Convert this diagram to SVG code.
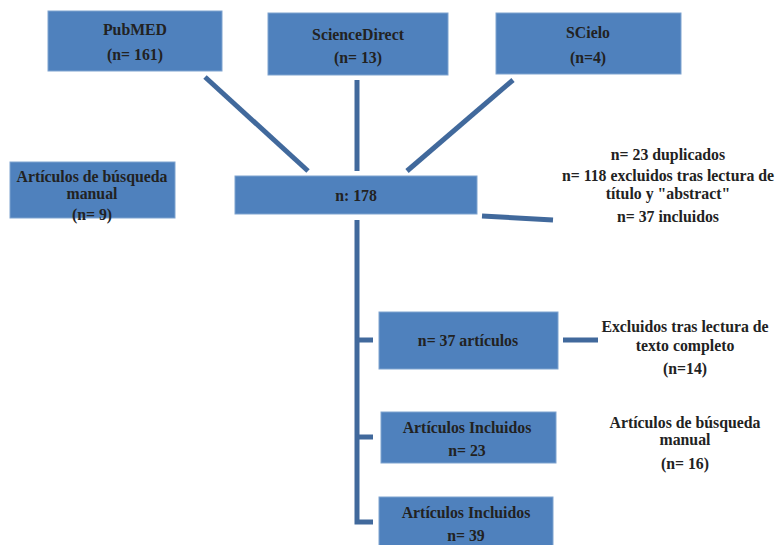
<svg xmlns="http://www.w3.org/2000/svg" width="782" height="545" viewBox="0 0 782 545">
<style>
.box{fill:#4F81BD;stroke:#7FA3CF;stroke-width:1}
.t{font-family:"Liberation Serif","DejaVu Serif",serif;font-size:15.8px;fill:#222;text-anchor:middle;font-weight:bold}
.c{stroke:#41699C;stroke-width:5;fill:none}
</style>
<rect width="782" height="545" fill="#fff"/>
<g id="connectors">
<line class="c" x1="205" y1="77" x2="308" y2="171"/>
<line class="c" x1="357" y1="80" x2="357" y2="171"/>
<line class="c" x1="513" y1="80" x2="407" y2="171"/>
<line class="c" x1="482" y1="216" x2="553" y2="220"/>
<polyline class="c" points="357,220 357,522 373,522"/>
<line class="c" x1="355" y1="340" x2="373" y2="340"/>
<line class="c" x1="355" y1="437" x2="373" y2="437"/>
<line class="c" x1="563" y1="340" x2="598" y2="340"/>
</g>
<g id="pubmed"><rect class="box" x="48" y="11" width="174" height="60"/><text class="t" x="135" y="35">PubMED</text><text class="t" x="135" y="60">(n= 161)</text></g>
<g id="sciencedirect"><rect class="box" x="268" y="13" width="180" height="62"/><text class="t" x="358" y="40">ScienceDirect</text><text class="t" x="358" y="63">(n= 13)</text></g>
<g id="scielo"><rect class="box" x="496" y="13" width="185" height="61"/><text class="t" x="588" y="38">SCielo</text><text class="t" x="588" y="63">(n=4)</text></g>
<g id="manual1"><rect class="box" x="10" y="162" width="165" height="56"/><text class="t" x="92" y="182">Artículos de búsqueda</text><text class="t" x="92" y="199">manual</text><text class="t" x="92" y="220">(n= 9)</text></g>
<g id="total"><rect class="box" x="235" y="176" width="242" height="38"/><text class="t" x="356" y="201">n: 178</text></g>
<g id="screen1"><text class="t" x="668" y="160">n= 23 duplicados</text><text class="t" x="668" y="181">n= 118 excluidos tras lectura de</text><text class="t" x="668" y="199">título y "abstract"</text><text class="t" x="668" y="222">n= 37 incluidos</text></g>
<g id="n37"><rect class="box" x="379" y="312" width="179" height="57"/><text class="t" x="468" y="346">n= 37 artículos</text></g>
<g id="excl2"><text class="t" x="685" y="332">Excluidos tras lectura de</text><text class="t" x="685" y="351">texto completo</text><text class="t" x="685" y="374">(n=14)</text></g>
<g id="inc23"><rect class="box" x="381" y="412" width="175" height="51"/><text class="t" x="467" y="433">Artículos Incluidos</text><text class="t" x="467" y="456">n= 23</text></g>
<g id="manual2"><text class="t" x="685" y="428">Artículos de búsqueda</text><text class="t" x="685" y="445">manual</text><text class="t" x="685" y="469">(n= 16)</text></g>
<g id="inc39"><rect class="box" x="379" y="497" width="174" height="52"/><text class="t" x="466" y="518">Artículos Incluidos</text><text class="t" x="466" y="541">n= 39</text></g>
</svg>
